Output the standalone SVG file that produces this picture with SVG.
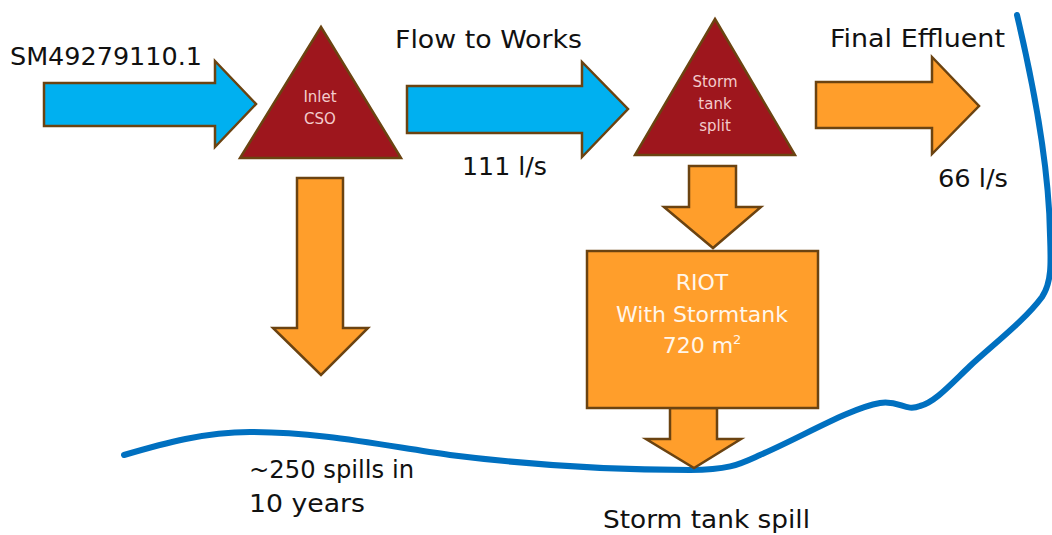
<svg xmlns="http://www.w3.org/2000/svg" width="1052" height="535" viewBox="0 0 1052 535">
<style>
.blue{fill:#00b0f0;stroke:#6b4311;stroke-width:2.5;stroke-linejoin:miter}
.orange{fill:#ff9e2b;stroke:#6b4311;stroke-width:2.5;stroke-linejoin:miter}
.tri{fill:#9e161d;stroke:#6b4311;stroke-width:2.5;stroke-linejoin:miter}
.lbl{font-family:"DejaVu Sans","Liberation Sans",sans-serif;font-size:25px;fill:#111}
.tt{font-family:"DejaVu Sans","Liberation Sans",sans-serif;font-size:15px;fill:#f3cccc;text-anchor:middle}
.bt{font-family:"DejaVu Sans","Liberation Sans",sans-serif;font-size:22px;fill:#fff6ea;text-anchor:middle}
.river{fill:none;stroke:#0070c0;stroke-width:6;stroke-linecap:round;stroke-linejoin:round}
</style>
<rect width="1052" height="535" fill="#ffffff"/>
<g id="river">
<path class="river" d="M124,455 C165,443 205,432 250,432 C320,432 380,445 450,455 C530,465 620,470 690,470 C730,470 740,464 760,455 C800,438 850,408 880,403 C900,400 905,412 920,406 C935,402 950,385 970,366 C995,343 1025,320 1042,297 C1052,282 1051,262 1050,235 C1049,160 1030,70 1017,15"/>
</g>
<g id="connectors">
<polygon class="blue" points="44,83 215,83 215,61 256,104 215,147 215,126 44,126"/>
<polygon class="blue" points="407,86 582,86 582,62 628,109 582,157 582,133 407,133"/>
<polygon class="orange" points="816,82 932,82 932,57 979,106 932,154 932,128 816,128"/>
<polygon class="orange" points="297,178 343,178 343,328 368,328 321,375 273,328 297,328"/>
<polygon class="orange" points="689,166 736,166 736,207 761,207 713,248 664,207 689,207"/>
<polygon class="orange" points="670,408 717,408 717,439 741,439 694,468 646,439 670,439"/>
</g>
<g id="inlet-cso">
<polygon class="tri" points="321,27 401,158 240,158"/>
<text class="tt" x="320" y="102">Inlet</text>
<text class="tt" x="320" y="124">CSO</text>
</g>
<g id="storm-tank-split">
<polygon class="tri" points="715,19 795,155 635,155"/>
<text class="tt" x="715" y="87">Storm</text>
<text class="tt" x="715" y="109">tank</text>
<text class="tt" x="715" y="131">split</text>
</g>
<g id="riot">
<rect class="orange" x="587" y="251" width="231" height="157"/>
<text class="bt" x="702" y="290">RIOT</text>
<text class="bt" x="702" y="322">With Stormtank</text>
<text class="bt" x="702" y="353">720 m<tspan dy="-9" font-size="13">2</tspan></text>
</g>
<g id="labels">
<text class="lbl" x="10" y="65" textLength="192" lengthAdjust="spacingAndGlyphs">SM49279110.1</text>
<text class="lbl" x="395" y="48" textLength="187" lengthAdjust="spacingAndGlyphs">Flow to Works</text>
<text class="lbl" x="462" y="175" textLength="85" lengthAdjust="spacingAndGlyphs">111 l/s</text>
<text class="lbl" x="830" y="47" textLength="175" lengthAdjust="spacingAndGlyphs">Final Effluent</text>
<text class="lbl" x="938" y="187" textLength="70" lengthAdjust="spacingAndGlyphs">66 l/s</text>
<text class="lbl" x="249" y="478" textLength="165" lengthAdjust="spacingAndGlyphs">~250 spills in</text>
<text class="lbl" x="249" y="512" textLength="116" lengthAdjust="spacingAndGlyphs">10 years</text>
<text class="lbl" x="603" y="528" textLength="207" lengthAdjust="spacingAndGlyphs">Storm tank spill</text>
</g>
</svg>
